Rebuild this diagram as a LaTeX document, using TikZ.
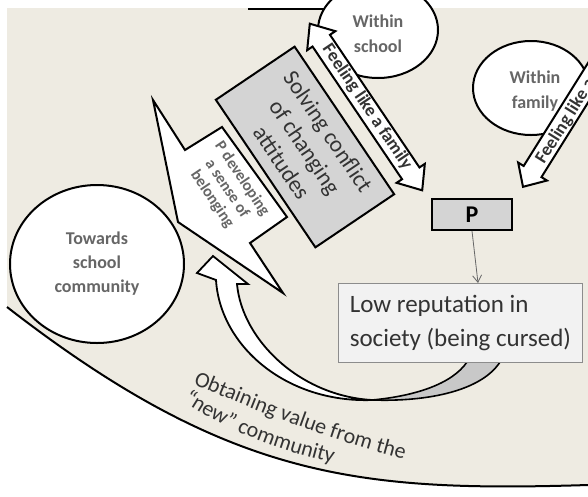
\documentclass[tikz,border=0pt]{standalone}
\usepackage{fontspec}
\setmainfont{Carlito}
\usetikzlibrary{shapes.geometric,decorations.text,arrows.meta}
\definecolor{paper}{HTML}{EEEBE2}
\definecolor{softtext}{HTML}{666666}
\definecolor{darktext}{HTML}{333333}
\definecolor{boxgray}{HTML}{D4D4D4}
\definecolor{repfill}{HTML}{F2F2F2}
\definecolor{repline}{HTML}{8C8C8C}
\definecolor{twistgray}{HTML}{C8C8C8}

\begin{document}
\begin{tikzpicture}[x=1pt,y=-1pt,
  outline/.style={draw=black,line width=2pt,line join=miter},
  bubble/.style={ellipse,outline,fill=white,inner sep=0pt},
  bubbletext/.style={align=center,text=softtext,inner sep=0pt,
    font=\fontsize{18}{25}\selectfont\bfseries},
  calltext/.style={align=center,text=softtext,inner sep=0pt,
    font=\fontsize{16}{18}\selectfont\bfseries},
  arrowtext/.style={text=darktext,inner sep=0pt,
    font=\fontsize{18}{18}\selectfont\bfseries},
  solvebox/.style={rectangle,outline,fill=boxgray,align=center,text=darktext,
    font=\fontsize{23}{28}\selectfont},
  pbox/.style={rectangle,outline,fill=boxgray,font=\fontsize{24}{24}\selectfont\bfseries},
  repbox/.style={rectangle,draw=repline,line width=0.8pt,fill=repfill,align=left,
    text=darktext,font=\fontsize{25}{34}\selectfont,inner xsep=10pt},
  thinlink/.style={draw=gray!80!black,line width=0.8pt,
    -{Straight Barb[length=7pt,width=9pt,line width=0.8pt]}},
  curvetext/.style={decorate,decoration={text along path,text align=left,
    text color=darktext,text={|\fontsize{22}{22}\selectfont|#1}}}
]
\useasboundingbox (0,0) rectangle (588,496);
\clip (0,0) rectangle (588,496);

% page, beige field and its lower boundary
\fill[white] (0,0) rectangle (588,496);
\fill[paper] (7,8) rectangle (588,496);
\fill[white] (7,307) .. controls (230,480) and (360,492) .. (588,485)
  -- (588,496) -- (7,496) -- cycle;
\draw[line width=2pt] (7,307) .. controls (230,480) and (360,492) .. (588,485);

% edge of the box above
\draw[line width=2.5pt] (248,9) -- (326,9);

% towards school community
\node[bubble,minimum width=174,minimum height=158] (towards) at (97,264) {};
\node[bubbletext,font=\fontsize{18}{24}\selectfont\bfseries] at (towards) {Towards\\school\\community};

% callout: sense of belonging
\draw[outline,fill=white] (153,100) -- (185,150) -- (222,127) -- (287,217)
  -- (250,243) -- (283,293) -- (178,222) -- cycle;
\node[calltext,rotate=-56] (belong) at (227,189) {P developing\\a sense of\\belonging};

% solving conflict
\node[solvebox,rotate=-56,minimum width=178,minimum height=95] (solve) at (305,147)
  {Solving conflict\\of changing\\attitudes};

% within school and its double arrow
\node[bubble,minimum width=120,minimum height=96] (school) at (378,30) {};
\node[bubbletext,yshift=-4pt] at (school) {Within\\school};
\begin{scope}[shift={(366,107)},rotate=-56]
  \draw[outline,fill=white] (-100.5,0) -- (-80,17) -- (-80,10.5) -- (80,10.5) -- (80,17)
    -- (100.5,0) -- (80,-17) -- (80,-10.5) -- (-80,-10.5) -- (-80,-17) -- cycle;
\end{scope}
\node[arrowtext,rotate=-56] (schoolfeel) at (367,107) {Feeling like a family};

% within family and its arrow
\node[bubble,minimum width=116,minimum height=94] (family) at (531,88) {};
\node[bubbletext,xshift=4pt,yshift=-3pt] at (family) {Within\\family};
\begin{scope}[shift={(576,102)},rotate=58]
  \draw[outline,fill=white] (-100,0) -- (-82,17) -- (-82,10.5) -- (110,10.5)
    -- (110,-10.5) -- (-82,-10.5) -- (-82,-17) -- cycle;
\end{scope}
\node[arrowtext,rotate=58] (familyfeel) at (579,100) {Feeling like a family};

% P and the link to reputation
\node[pbox,minimum width=80,minimum height=31] (p) at (472,214.5) {P};
\coordinate (repin) at (478,283);
\draw[thinlink] (p.south) -- (repin);

% twisted curved arrow back to the callout
\fill[twistgray] (372,400) .. controls (430,402) and (482,390) .. (500,362)
  -- (467,362) .. controls (452,384) and (415,396) .. (372,400) -- cycle;
\draw[line width=1.6pt] (372,400) .. controls (430,402) and (482,390) .. (500,362);
\draw[line width=1.6pt] (467,362) .. controls (452,384) and (415,396) .. (372,400);
\draw[outline,line width=1.8pt,fill=white] (372,400) .. controls (300,396) and (242,340) .. (237,284)
  -- (248,284) -- (213,256) -- (197,273) -- (216,280)
  .. controls (220,345) and (285,403) .. (372,400) -- cycle;

% low reputation
\node[repbox,minimum width=244,minimum height=79,anchor=north west] (rep) at (338,283)
  {Low reputation in\\society (being cursed)};

% text along the boundary
\path[curvetext={Obtaining value from the}]
  (193,384) .. controls (265,414) and (345,448) .. (450,470);
\path[curvetext={“new” community}]
  (183,401) .. controls (225,430) and (285,456) .. (380,473);
\end{tikzpicture}
\end{document}
